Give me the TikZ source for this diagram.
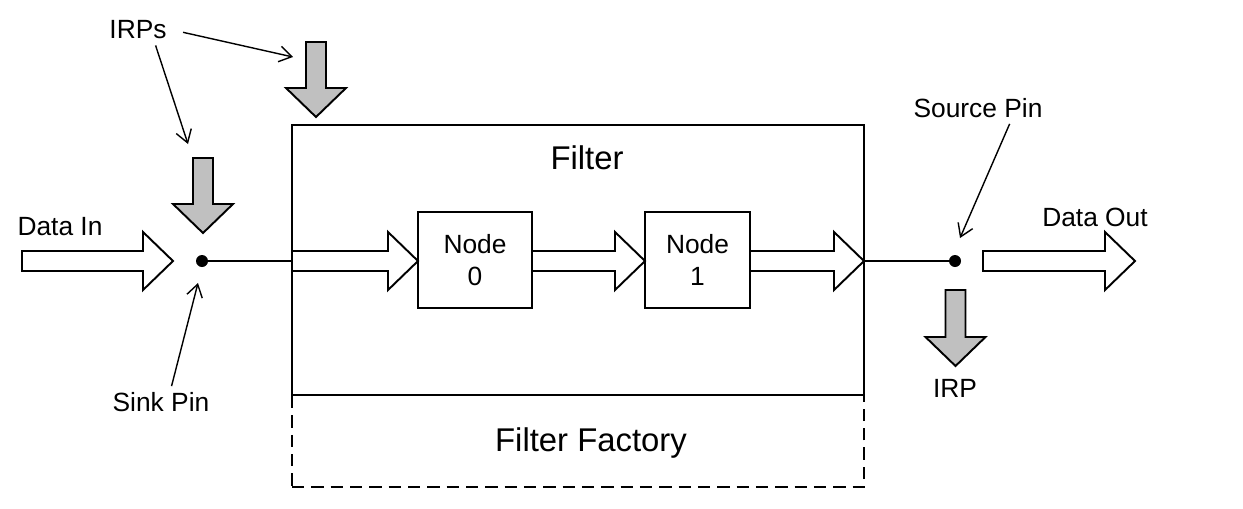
\documentclass[tikz,border=0pt]{standalone}
\usepackage{fontspec}
\setmainfont{Liberation Sans}
\usetikzlibrary{arrows.meta}

\definecolor{irpgray}{RGB}{192,192,192}

% hollow data arrow on the y=261 line, from #1 to tip #2
\newcommand{\dataarrow}[2]{%
  \draw[fat] (#1,251) -- (#2-30,251) -- (#2-30,232) -- (#2,261)
    -- (#2-30,290) -- (#2-30,271) -- (#1,271) -- cycle;}
% grey IRP arrow pointing down: centre #1, top #2, tip #3
\newcommand{\irparrow}[3]{%
  \draw[fat, fill=irpgray] (#1-10,#2) -- (#1+10,#2) -- (#1+10,#3-29)
    -- (#1+30,#3-29) -- (#1,#3) -- (#1-30,#3-29) -- (#1-10,#3-29) -- cycle;}

\begin{document}
\begin{tikzpicture}
        [x=0.02cm, y=-0.02cm,
         lbl/.style={font=\fontsize{15}{18}\selectfont},
         big/.style={font=\fontsize{18.7}{22}\selectfont},
         fat/.style={line width=1.1pt, fill=white},
         box/.style={draw, line width=1.1pt, minimum height=1.92cm, align=center, lbl},
         pin/.style={circle, fill=black, inner sep=0, minimum size=0.24cm},
         note/.style={-{Straight Barb[length=7pt,width=9pt]}, line width=0.8pt}]

        \useasboundingbox (0,0) rectangle (1243,508);

        % boxes
        \node[draw, dashed, dash pattern=on 7pt off 4pt, line width=1.1pt,
              minimum width=11.44cm, minimum height=1.84cm] (factory) at (578,441) {};
        \node[draw, line width=1.1pt, minimum width=11.44cm, minimum height=5.4cm] (filter) at (578,260) {};
        \node[big] (filtername) at (587,158) {Filter};
        \node[big] (factoryname) at (591,443) {Filter Factory};
        \node[box, minimum width=2.28cm] (node0) at (475,260) {Node\\0};
        \node[box, minimum width=2.1cm] (node1) at (697.5,260) {Node\\1};

        % pins
        \node[pin] (sink) at (202,261) {};
        \node[pin] (source) at (955,261) {};
        \draw[line width=1.1pt] (sink) -- (sink -| filter.west);
        \draw[line width=1.1pt] (source -| filter.east) -- (source);

        % data flow
        \dataarrow{22}{173}
        \dataarrow{292}{418}
        \dataarrow{532}{645}
        \dataarrow{750}{864}
        \dataarrow{983}{1135}

        % IRPs
        \irparrow{203}{158}{233}
        \irparrow{316}{42}{117}
        \irparrow{955.5}{290}{366}

        % labels
        \node[lbl] (irps) at (138,30) {IRPs};
        \node[lbl] (datain) at (60,227) {Data In};
        \node[lbl] (sinkname) at (161,402) {Sink Pin};
        \node[lbl] (sourcename) at (978,108) {Source Pin};
        \node[lbl] (dataout) at (1095,217) {Data Out};
        \node[lbl] (irp) at (955,388) {IRP};

        \coordinate (irpfilter) at (293,57);
        \coordinate (irpsink) at (188,144);
        \coordinate (sinktip) at (198,283);
        \coordinate (sourcetip) at (960,238);

        \draw[note, shorten <=6pt] (irps.east) -- (irpfilter);
        \draw[note] ([xshift=10pt]irps.south) -- (irpsink);
        \draw[note] ([xshift=6pt]sinkname.north) -- (sinktip);
        \draw[note] ([xshift=18pt]sourcename.south) -- (sourcetip);

      \end{tikzpicture}
\end{document}
